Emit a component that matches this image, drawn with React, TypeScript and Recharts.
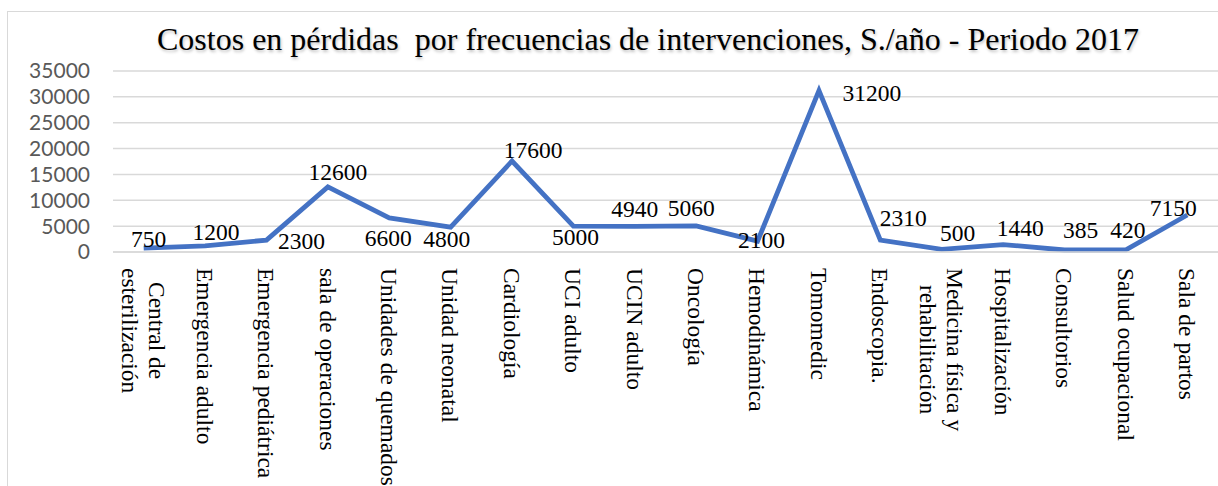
import { LineChart, Line, XAxis, YAxis, CartesianGrid, LabelList } from "recharts";

const categories = [
  "Central de\nesterilización",
  "Emergencia adulto",
  "Emergencia pediátrica",
  "sala de operaciones",
  "Unidades de quemados",
  "Unidad neonatal",
  "Cardiología",
  "UCI adulto",
  "UCIN adulto",
  "Oncología",
  "Hemodinámica",
  "Tomomedic",
  "Endoscopia.",
  "Medicina física y\nrehabilitación",
  "Hospitalización",
  "Consultorios",
  "Salud ocupacional",
  "Sala de partos",
];

const costos = [750, 1200, 2300, 12600, 6600, 4800, 17600, 5000, 4940, 5060, 2100, 31200, 2310, 500, 1440, 385, 420, 7150];

const yTicks = [0, 5000, 10000, 15000, 20000, 25000, 30000, 35000];

// where each data label sits relative to its point (dx, dy of the label centre)
const labelNudge: [number, number][] = [
  [5, -9], [11, -14], [35, 1], [10, -15], [-1, 20], [-4, 12], [21, -11], [2, 11], [0, -18],
  [-5, -18], [4, -1], [53, 2], [23, -22], [16, -17], [17, -17], [16, -20], [2, -20], [-14, -7],
];

const TITLE = "Costos en pérdidas  por frecuencias de intervenciones, S./año - Periodo 2017";

const SERIF = '"Liberation Serif", "Times New Roman", serif';
const CAT_FONT = 23.5;
const LINE_GAP = 27;

const data = categories.map((name, i) => ({ name, costo: costos[i] }));

let measureCtx: CanvasRenderingContext2D | null = null;
function measure(s: string) {
  if (!measureCtx) {
    measureCtx = document.createElement("canvas").getContext("2d");
    if (measureCtx) measureCtx.font = `${CAT_FONT}px "Liberation Serif"`;
  }
  return measureCtx ? measureCtx.measureText(s).width : s.length * 10;
}

function CategoryTick({ x, y, payload }: any) {
  const lines = String(payload.value).split("\n");
  const w = Math.max(...lines.map(measure));
  return (
    <g transform={`translate(${x},${y}) rotate(90)`}>
      {lines.map((ln, i) => (
        <text
          key={i}
          x={w / 2}
          y={(i - (lines.length - 1) / 2) * LINE_GAP}
          dy="0.35em"
          textAnchor="middle"
          fontSize={CAT_FONT}
          fontFamily={SERIF}
          fill="#000"
        >
          {ln}
        </text>
      ))}
    </g>
  );
}

const renderValue = (props: any) => {
  const { x, y, index, value } = props;
  const [dx, dy] = labelNudge[index] || [0, -12];
  return (
    <text
      x={x + dx}
      y={y + dy}
      dy="0.35em"
      textAnchor="middle"
      fontSize={23.5}
      fontFamily={SERIF}
      fill="#000"
    >
      {value}
    </text>
  );
};

export default function App() {
  return (
    <div style={{ position: "absolute", left: 0, top: 0, width: 1218, height: 486, overflow: "hidden", background: "#fff" }}>
      <div
        style={{
          position: "absolute",
          left: 7,
          top: 11,
          width: 1300,
          height: 600,
          border: "1.5px solid #d9d9d9",
        }}
      />
      <div
        style={{
          position: "absolute",
          left: 648,
          top: 23,
          transform: "translateX(-50%)",
          whiteSpace: "pre",
          fontFamily: SERIF,
          fontSize: 32,
          lineHeight: 1,
          color: "#000",
          textShadow: "1px 2px 3px rgba(0,0,0,0.25)",
        }}
      >
        {TITLE}
      </div>
      <div style={{ position: "absolute", left: 0, top: 0 }}>
        <LineChart width={1218} height={486} data={data} margin={{ top: 71, right: 0, bottom: 0, left: 0 }}>
          <CartesianGrid vertical={false} stroke="#d9d9d9" strokeWidth={1.5} />
          <XAxis
            dataKey="name"
            interval={0}
            height={234}
            padding={{ left: 30.7, right: 30.7 }}
            axisLine={{ stroke: "#d9d9d9", strokeWidth: 1.5 }}
            tickLine={false}
            tickSize={0}
            tickMargin={16}
            tick={<CategoryTick />}
          />
          <YAxis
            domain={[0, 35000]}
            ticks={yTicks}
            interval={0}
            width={113}
            axisLine={false}
            tickLine={false}
            tickSize={0}
            tickMargin={23}
            tick={{ fontSize: 21, fontFamily: "Lato, sans-serif", fill: "#595959" }}
          />
          <Line
            type="linear"
            dataKey="costo"
            stroke="#4472C4"
            strokeWidth={4.8}
            strokeLinejoin="miter"
            dot={false}
            activeDot={false}
            isAnimationActive={false}
          >
            <LabelList dataKey="costo" content={renderValue} />
          </Line>
        </LineChart>
      </div>
    </div>
  );
}
